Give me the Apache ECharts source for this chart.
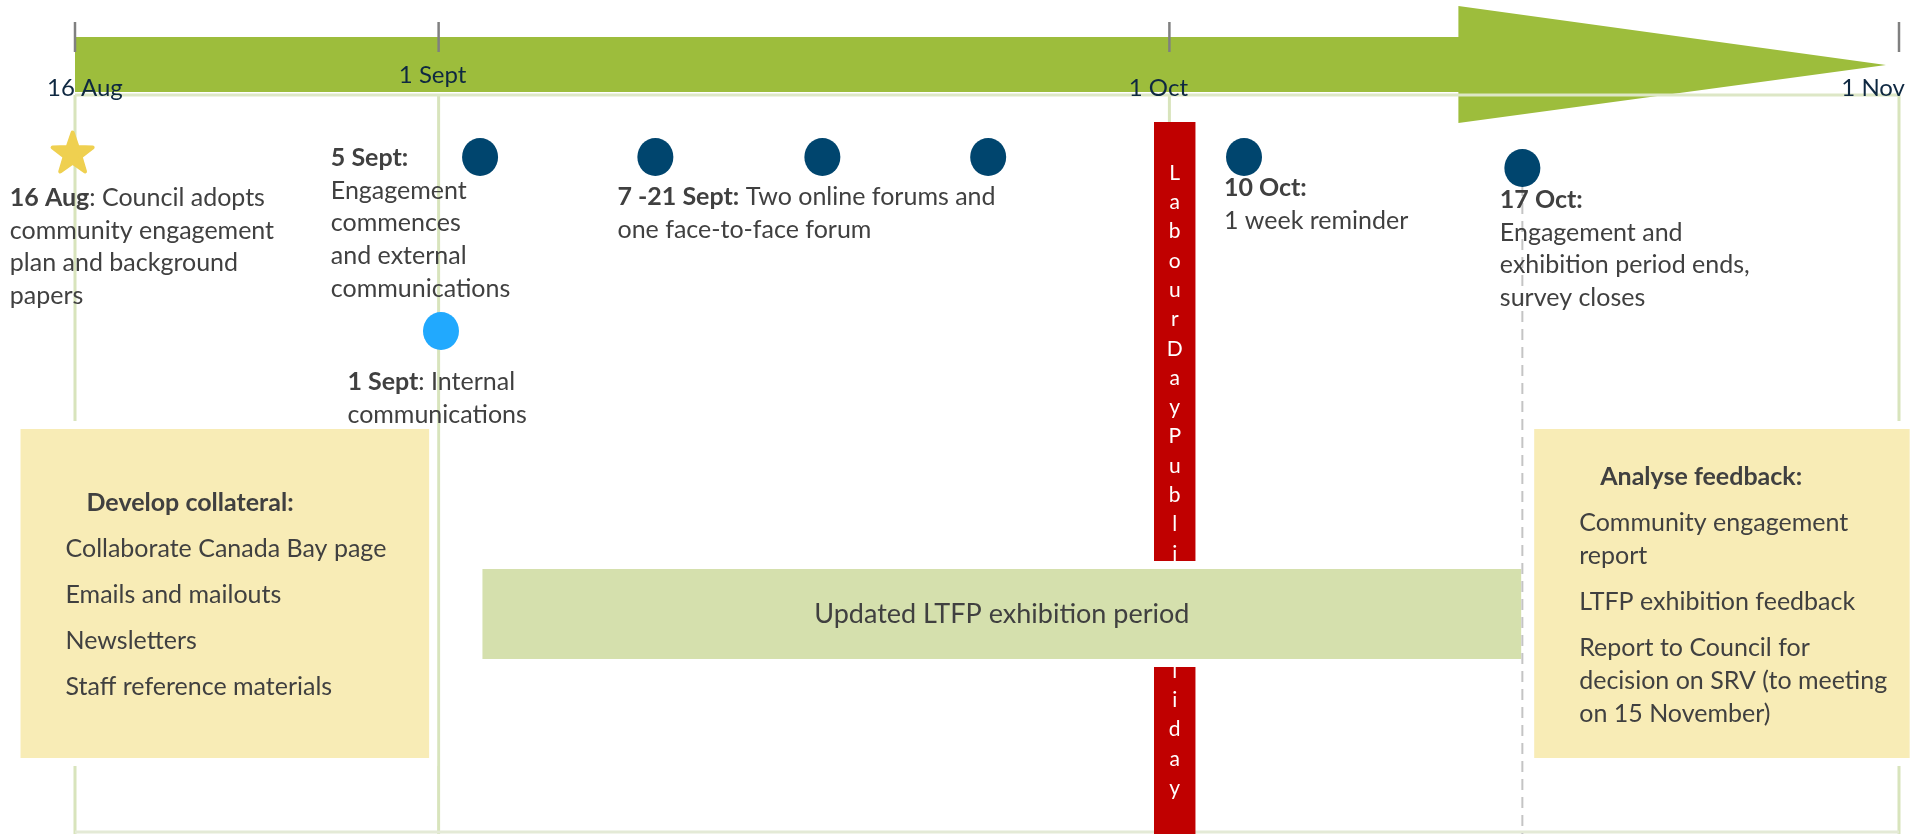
<!DOCTYPE html>
<html>
<head>
<meta charset="utf-8">
<title>LTFP engagement timeline</title>
<script src="https://cdn.jsdelivr.net/npm/echarts@6.0.0/dist/echarts.min.js"></script>
<style>
  html, body { margin: 0; padding: 0; background: #fff; }
  #box { width: 1914px; height: 834px; }
</style>
</head>
<body>
<div id="box"></div>
<script>
// x = days after 16 Aug, where the marks sit on the slide; y = slide rows (0 top .. 834 bottom)
var tickLabels = ['16 Aug', '1 Sept', '1 Oct', '1 Nov'];
var tickDays = [0, 15.35, 46.2, 77];

var dotDays = [17.1, 24.5, 31.55, 38.55, 49.35, 61.1];
var dotRows = [157, 157, 157, 157, 157, 168];
var internalDays = [15.45];
var internalRows = [331];
var starDays = [-0.1];
var starRows = [152];

var arrowDays = [0, 58.4, 76.45];
var holidayDays = [45.55, 47.3];
var holidayText = 'LabourDayPublicHoliday';
var exhibitionDays = [17.2, 61.05];
var exhibitionText = 'Updated LTFP exhibition period';
var closeDays = [61.1];

var noteTexts = [
	'{b|16 Aug}: Council adopts\ncommunity engagement\nplan and background\npapers',
	'{b|5 Sept:}\nEngagement\ncommences\nand external\ncommunications',
	'{b|1 Sept}: Internal\ncommunications',
	'{b|7 -21 Sept:} Two online forums and\none face-to-face forum',
	'{b|10 Oct:}\n1 week reminder',
	'{b|17 Oct:}\nEngagement and\nexhibition period ends,\nsurvey closes'
];
var noteDays = [-2.75, 10.8, 11.5, 22.9, 48.5, 60.15];
var noteRows = [198, 158, 382, 197, 188, 200];

var collateralDays = [-2.3, 14.95];
var collateralTitle = 'Develop collateral:';
var collateralItems = ['Collaborate Canada Bay page', 'Emails and mailouts', 'Newsletters', 'Staff reference materials'];
var feedbackDays = [61.6, 77.45];
var feedbackTitle = 'Analyse feedback:';
var feedbackItems = ['Community engagement\nreport', 'LTFP exhibition feedback', 'Report to Council for\ndecision on SRV (to meeting\non 15 November)'];

// layout
var FONT = 'Lato, "Noto Sans", sans-serif';
var INK = '#404040';
var NAVY = '#0e2841';
var LEAF = '#9dbd3c';
var GUIDE = '#d8e4bc';
var LH = 32.7;
var labelShift = [[-28, 'left', 88], [-6, 'center', 75], [-11, 'center', 88], [6, 'right', 88]];

var chart = echarts.init(document.getElementById('box'));

function pt(api, d, r) {
	return api.coord([d, r]);
}

function textEl(x, y, text, o) {
	o = o || {};
	var size = o.size || 25;
	var lh = o.lh || LH;
	return {
		type: 'text',
		x: x,
		y: y,
		style: {
			text: text,
			fill: o.fill || INK,
			fontFamily: FONT,
			fontSize: size,
			fontWeight: o.weight || 'normal',
			lineHeight: lh,
			align: o.align || 'left',
			verticalAlign: o.va || 'top',
			rich: {
				b: { fill: o.fill || INK, fontFamily: FONT, fontSize: size, fontWeight: 'bold', lineHeight: lh }
			}
		}
	};
}

function rectEl(api, d0, r0, d1, r1, fill, pad) {
	var a = pt(api, d0, r0), b = pt(api, d1, r1);
	pad = pad || 0;
	return {
		type: 'rect',
		shape: { x: a[0] - pad, y: a[1] - pad, width: b[0] - a[0] + 2 * pad, height: b[1] - a[1] + 2 * pad },
		style: { fill: fill }
	};
}

function listBlock(api, days, title, items, titleRow) {
	var left = pt(api, days[0], 0)[0];
	var kids = [textEl(left + 66, titleRow - LH / 2, '{b|' + title + '}')];
	var row = titleRow + 46;
	items.forEach(function (t) {
		kids.push(textEl(left + 45, row - LH / 2, t, { lh: 33 }));
		row += t.split('\n').length * 33 + 13;
	});
	return kids;
}

var option = {
	animation: false,
	grid: { left: 75, right: 15, top: 0, bottom: 0 },
	xAxis: { type: 'value', min: 0, max: 77, show: false },
	yAxis: { type: 'value', min: 0, max: 834, inverse: true, show: false },
	series: [{
		// guide lines down from each date
		type: 'custom', z: 1, silent: true,
		data: tickDays.map(function (d) { return [d]; }),
		renderItem: function (params, api) {
			var a = pt(api, api.value(0), 95), b = pt(api, api.value(0), 834);
			return { type: 'line', shape: { x1: a[0], y1: a[1], x2: b[0], y2: b[1] }, style: { stroke: GUIDE, lineWidth: 3 } };
		}
	}, {
		// timeline arrow
		type: 'custom', z: 2, silent: true,
		data: [arrowDays],
		renderItem: function (params, api) {
			var s = api.value(0), e = api.value(1), tip = api.value(2);
			var p = [pt(api, s, 37), pt(api, e, 37), pt(api, e, 6), pt(api, tip, 65), pt(api, e, 123), pt(api, e, 92), pt(api, s, 92)];
			var rule0 = pt(api, 0, 95), rule1 = pt(api, 77, 95);
			var floor0 = pt(api, 0, 832), floor1 = pt(api, 77, 832);
			return {
				type: 'group',
				children: [
					{ type: 'polygon', shape: { points: p }, style: { fill: LEAF } },
					{ type: 'line', shape: { x1: rule0[0], y1: rule0[1], x2: rule1[0], y2: rule1[1] }, style: { stroke: '#dde7c6', lineWidth: 3 } },
					{ type: 'line', shape: { x1: floor0[0], y1: floor0[1], x2: floor1[0], y2: floor1[1] }, style: { stroke: '#e4ead6', lineWidth: 3 } }
				]
			};
		}
	}, {
		// ticks and date labels
		type: 'custom', z: 3, silent: true,
		data: tickDays.map(function (d, i) { return [d, i]; }),
		renderItem: function (params, api) {
			var i = api.value(1);
			var a = pt(api, api.value(0), 22), b = pt(api, api.value(0), 52);
			var s = labelShift[i];
			var c = pt(api, api.value(0), s[2]);
			return {
				type: 'group',
				children: [
					{ type: 'line', shape: { x1: a[0], y1: a[1], x2: b[0], y2: b[1] }, style: { stroke: '#808080', lineWidth: 2.5 } },
					textEl(c[0] + s[0], c[1], tickLabels[i], { fill: NAVY, align: s[1], va: 'middle', size: 24 })
				]
			};
		}
	}, {
		// Labour Day public holiday
		type: 'custom', z: 4, silent: true,
		data: [holidayDays],
		renderItem: function (params, api) {
			var mid = pt(api, (api.value(0) + api.value(1)) / 2, 173);
			return {
				type: 'group',
				children: [
					rectEl(api, api.value(0), 122, api.value(1), 834, '#c00000'),
					textEl(mid[0], mid[1] - 14.65, holidayText.split('').join('\n'), { fill: '#ffffff', size: 21, lh: 29.3, align: 'center' })
				]
			};
		}
	}, {
		// collateral and feedback boxes, exhibition period
		type: 'custom', z: 5, silent: true,
		data: [collateralDays, feedbackDays, exhibitionDays],
		renderItem: function (params, api) {
			var d0 = api.value(0), d1 = api.value(1);
			if (params.dataIndex === 2) {
				var m = pt(api, (d0 + d1) / 2, 614);
				return {
					type: 'group',
					children: [
						rectEl(api, d0, 569, d1, 659, '#ffffff', 8),
						rectEl(api, d0, 569, d1, 659, '#d5e0ad'),
						textEl(m[0], m[1], exhibitionText, { align: 'center', va: 'middle', size: 27 })
					]
				};
			}
			var kids = [rectEl(api, d0, 429, d1, 758, '#ffffff', 8), rectEl(api, d0, 429, d1, 758, '#f8ecb6')];
			var list = params.dataIndex === 0
				? listBlock(api, collateralDays, collateralTitle, collateralItems, 503)
				: listBlock(api, feedbackDays, feedbackTitle, feedbackItems, 477);
			return { type: 'group', children: kids.concat(list) };
		}
	}, {
		// survey closes
		type: 'custom', z: 6, silent: true,
		data: closeDays.map(function (d) { return [d]; }),
		renderItem: function (params, api) {
			var a = pt(api, api.value(0), 185), b = pt(api, api.value(0), 834);
			return { type: 'line', shape: { x1: a[0], y1: a[1], x2: b[0], y2: b[1] }, style: { stroke: '#c4c4c4', lineWidth: 2, lineDash: [11, 7] } };
		}
	}, {
		type: 'scatter', z: 7, clip: false, silent: true,
		symbol: 'circle', symbolSize: [36, 38],
		itemStyle: { color: '#00456e', opacity: 1 },
		data: dotDays.map(function (d, i) { return [d, dotRows[i]]; })
	}, {
		type: 'scatter', z: 7, clip: false, silent: true,
		symbol: 'circle', symbolSize: [36, 38],
		itemStyle: { color: '#21a9fe', opacity: 1 },
		data: internalDays.map(function (d, i) { return [d, internalRows[i]]; })
	}, {
		type: 'scatter', z: 7, clip: false, silent: true,
		symbol: 'path://M50,0L61.76,33.82L97.55,34.55L69.02,56.18L79.39,90.45L50,70L20.61,90.45L30.98,56.18L2.45,34.55L38.24,33.82Z',
		symbolSize: [40, 39],
		itemStyle: { color: '#efd050', borderColor: '#efd050', borderWidth: 4, borderJoin: 'round', opacity: 1 },
		data: starDays.map(function (d, i) { return [d, starRows[i]]; })
	}, {
		// notes under the dots
		type: 'custom', z: 8, silent: true,
		data: noteDays.map(function (d, i) { return [d, noteRows[i], i]; }),
		renderItem: function (params, api) {
			var p = pt(api, api.value(0), api.value(1));
			return textEl(p[0], p[1] - LH / 2, noteTexts[api.value(2)]);
		}
	}]
};

chart.setOption(option);
</script>
</body>
</html>
